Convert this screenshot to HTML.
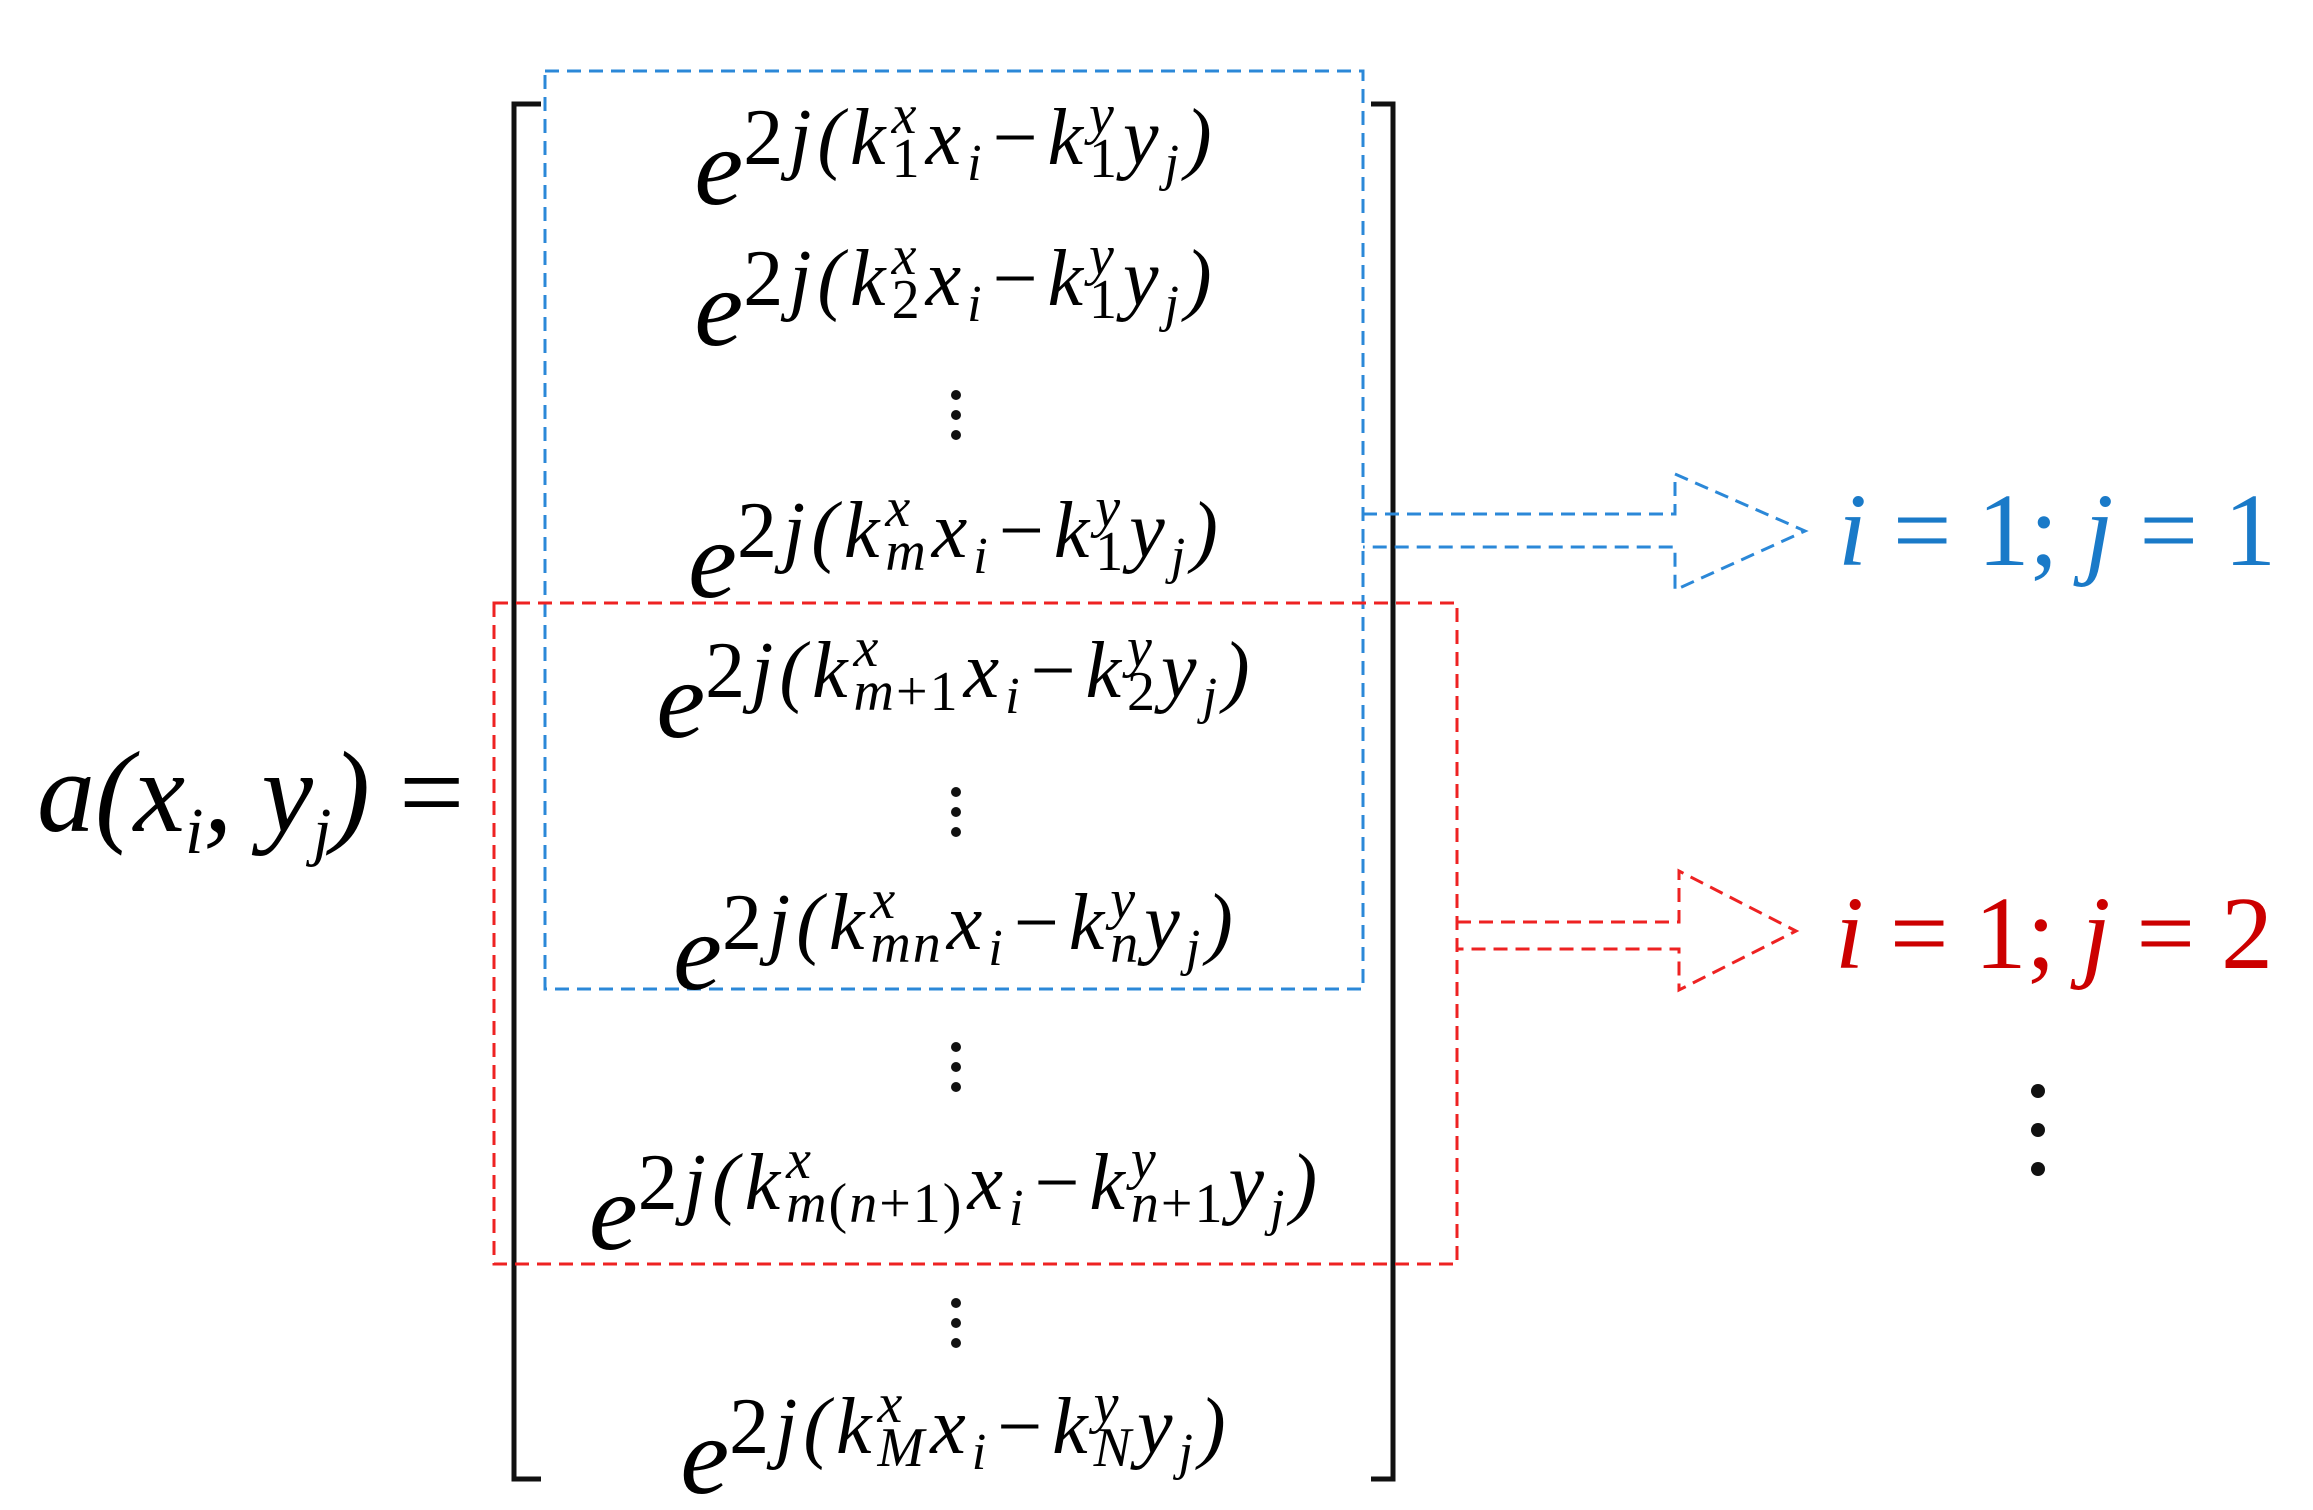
<!DOCTYPE html>
<html><head><meta charset="utf-8"><style>
html,body{margin:0;padding:0;background:#fff;}
#c{position:relative;width:2313px;height:1510px;overflow:hidden;font-family:"Liberation Serif",serif;}
.row{position:absolute;left:956px;transform:translate(-50%,-50%);white-space:nowrap;font-style:italic;line-height:1;color:#000;}
.e{font-size:110px;position:relative;top:30px;}
.ex{font-size:80px;display:inline-block;position:relative;top:-10px;letter-spacing:6px;white-space:nowrap;}
.ss{display:inline-block;vertical-align:middle;line-height:0.78;font-size:56px;text-align:left;margin-right:4px;position:relative;top:-8px;white-space:nowrap;letter-spacing:2px;}
.ss > span{display:block;white-space:nowrap;}
.ss span span{display:inline;}
.n{font-style:normal;}
sub{font-size:52px;vertical-align:-16px;}
.lab{position:absolute;font-style:italic;font-size:104px;line-height:1;white-space:nowrap;transform:translateY(-50%);}
.lab sub{font-size:66px;vertical-align:-22px;}
</style></head><body><div id="c">
<svg width="2313" height="1510" style="position:absolute;left:0;top:0">
<g fill="none" stroke-width="5" stroke="#111">
<polyline points="541,104 514,104 514,1479 541,1479"/>
<polyline points="1371,104 1393,104 1393,1479 1371,1479"/>
</g>
<g fill="none" stroke-width="3" stroke-dasharray="14,8">
<rect x="545" y="71" width="818" height="918" stroke="#2b88d8"/>
<rect x="494" y="603" width="963" height="661" stroke="#ee2222"/>
<polyline stroke="#2b88d8" points="1363,514 1675,514 1675,474 1805,531 1675,590 1675,547 1363,547"/>
<polyline stroke="#ee2222" points="1457,922 1679,922 1679,871 1796,931 1679,990 1679,949 1457,949"/>
</g>
<g fill="#111">
<circle cx="956" cy="395" r="5"/><circle cx="956" cy="415" r="5"/><circle cx="956" cy="435" r="5"/>
<circle cx="956" cy="792" r="5"/><circle cx="956" cy="812" r="5"/><circle cx="956" cy="832" r="5"/>
<circle cx="956" cy="1047" r="5"/><circle cx="956" cy="1067" r="5"/><circle cx="956" cy="1087" r="5"/>
<circle cx="956" cy="1303" r="5"/><circle cx="956" cy="1323" r="5"/><circle cx="956" cy="1343" r="5"/>
<circle cx="2038" cy="1091" r="7"/><circle cx="2038" cy="1130" r="7"/><circle cx="2038" cy="1169" r="7"/>
</g>
</svg>
<div class="lab" style="left:37px;top:800px;font-size:116px;">a(x<sub>i</sub>, y<sub>j</sub>) <span class="n">=</span></div>
<div class="lab" style="left:1838px;top:531px;color:#1a7ac8;">i <span class="n">= 1;</span> j <span class="n">= 1</span></div>
<div class="lab" style="left:1835px;top:934px;color:#c00;">i <span class="n">= 1;</span> j <span class="n">= 2</span></div>

<div class="row" style="top:141px"><span class="e">e</span><span class="ex"><span class="n">2</span>j(k<span class="ss"><span>x</span><span class="n">1</span></span>x<sub>i</sub>−k<span class="ss"><span>y</span><span class="n">1</span></span>y<sub>j</sub>)</span></div>
<div class="row" style="top:282px"><span class="e">e</span><span class="ex"><span class="n">2</span>j(k<span class="ss"><span>x</span><span class="n">2</span></span>x<sub>i</sub>−k<span class="ss"><span>y</span><span class="n">1</span></span>y<sub>j</sub>)</span></div>
<div class="row" style="top:534px"><span class="e">e</span><span class="ex"><span class="n">2</span>j(k<span class="ss"><span>x</span><span>m</span></span>x<sub>i</sub>−k<span class="ss"><span>y</span><span class="n">1</span></span>y<sub>j</sub>)</span></div>
<div class="row" style="top:674px"><span class="e">e</span><span class="ex"><span class="n">2</span>j(k<span class="ss"><span>x</span><span>m<span class="n">+1</span></span></span>x<sub>i</sub>−k<span class="ss"><span>y</span><span class="n">2</span></span>y<sub>j</sub>)</span></div>
<div class="row" style="top:926px"><span class="e">e</span><span class="ex"><span class="n">2</span>j(k<span class="ss"><span>x</span><span>mn</span></span>x<sub>i</sub>−k<span class="ss"><span>y</span><span>n</span></span>y<sub>j</sub>)</span></div>
<div class="row" style="top:1186px"><span class="e">e</span><span class="ex"><span class="n">2</span>j(k<span class="ss"><span>x</span><span>m<span class="n">(</span>n<span class="n">+1)</span></span></span>x<sub>i</sub>−k<span class="ss"><span>y</span><span>n<span class="n">+1</span></span></span>y<sub>j</sub>)</span></div>
<div class="row" style="top:1430px"><span class="e">e</span><span class="ex"><span class="n">2</span>j(k<span class="ss"><span>x</span><span>M</span></span>x<sub>i</sub>−k<span class="ss"><span>y</span><span>N</span></span>y<sub>j</sub>)</span></div>
</div></body></html>
